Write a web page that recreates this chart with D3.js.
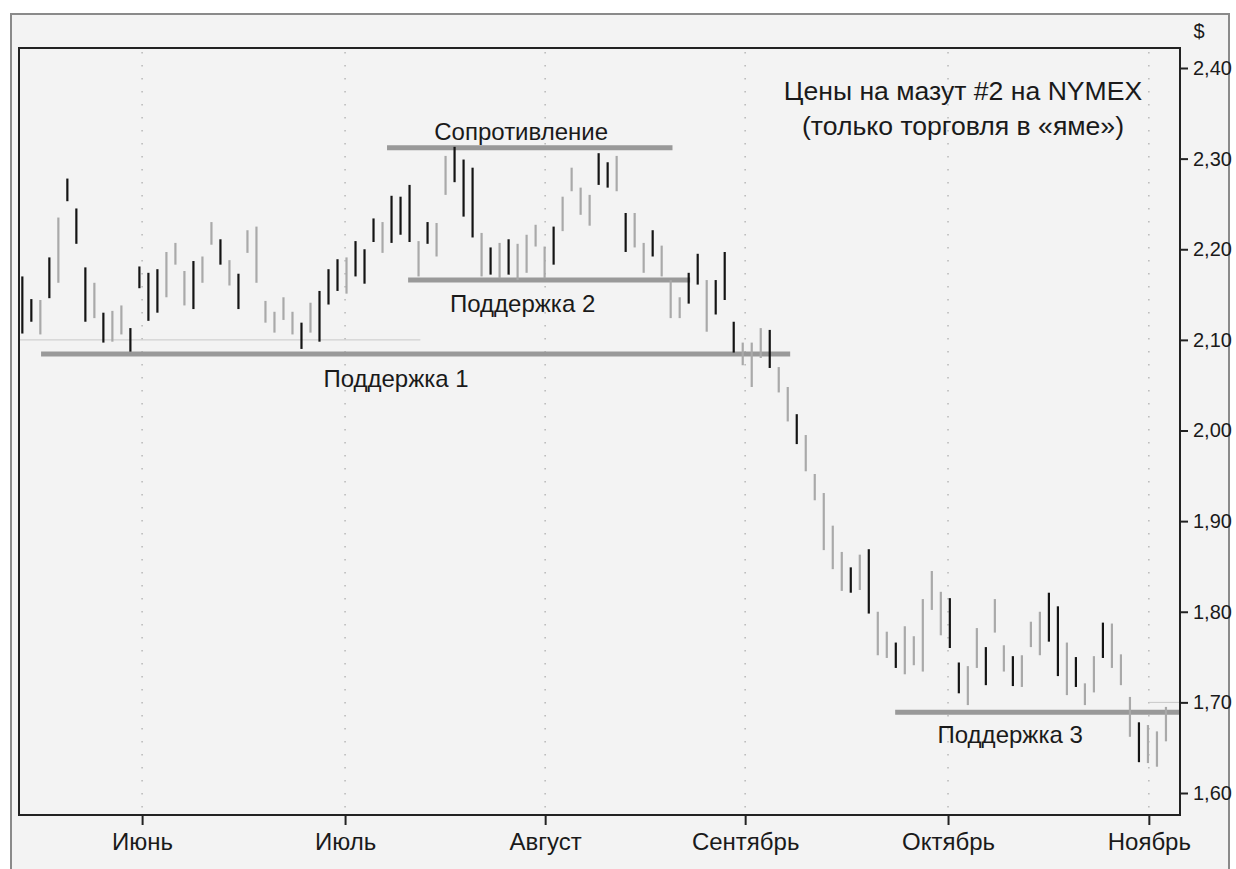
<!DOCTYPE html>
<html>
<head>
<meta charset="utf-8">
<script src="https://cdn.jsdelivr.net/npm/d3@7"></script>
<style>
  body { margin: 0; background: #fff; }
  text { font-family: "Liberation Sans", Arial, sans-serif; fill: #1a1a1a; }
</style>
</head>
<body>
<div id="chart"></div>
<script>
// Heating oil #2 daily bars, NYMEX pit session
// Values: high / low per trading day, bar colour
var highs = [2.170, 2.145, 2.144, 2.191, 2.235, 2.278, 2.245, 2.180, 2.163, 2.130,
	2.132, 2.138, 2.113, 2.181, 2.174, 2.178, 2.197, 2.207, 2.176, 2.187,
	2.192, 2.230, 2.211, 2.188, 2.173, 2.221, 2.225, 2.143, 2.131, 2.147,
	2.131, 2.119, 2.141, 2.154, 2.178, 2.189, 2.191, 2.209, 2.200, 2.234,
	2.230, 2.259, 2.258, 2.271, 2.209, 2.230, 2.229, 2.303, 2.313, 2.299,
	2.290, 2.218, 2.202, 2.207, 2.211, 2.206, 2.216, 2.227, 2.203, 2.225,
	2.258, 2.290, 2.268, 2.260, 2.306, 2.296, 2.303, 2.240, 2.240, 2.207,
	2.221, 2.204, 2.166, 2.147, 2.174, 2.195, 2.166, 2.166, 2.197, 2.120,
	2.097, 2.097, 2.113, 2.111, 2.070, 2.048, 2.018, 1.995, 1.952, 1.931,
	1.895, 1.866, 1.849, 1.863, 1.869, 1.800, 1.778, 1.766, 1.784, 1.773,
	1.814, 1.845, 1.822, 1.815, 1.744, 1.740, 1.782, 1.761, 1.814, 1.763,
	1.751, 1.752, 1.789, 1.800, 1.821, 1.806, 1.766, 1.750, 1.721, 1.751,
	1.788, 1.787, 1.753, 1.706, 1.678, 1.675, 1.668, 1.695];
var lows = [2.107, 2.120, 2.106, 2.146, 2.163, 2.253, 2.206, 2.120, 2.124, 2.097,
	2.098, 2.106, 2.087, 2.157, 2.121, 2.130, 2.147, 2.183, 2.138, 2.134,
	2.163, 2.205, 2.183, 2.160, 2.134, 2.196, 2.163, 2.119, 2.108, 2.122,
	2.106, 2.090, 2.108, 2.098, 2.139, 2.154, 2.151, 2.170, 2.162, 2.208,
	2.196, 2.207, 2.216, 2.208, 2.170, 2.206, 2.192, 2.260, 2.274, 2.236,
	2.213, 2.170, 2.172, 2.168, 2.172, 2.166, 2.174, 2.203, 2.168, 2.183,
	2.220, 2.264, 2.238, 2.226, 2.271, 2.268, 2.264, 2.197, 2.202, 2.174,
	2.192, 2.170, 2.124, 2.124, 2.140, 2.161, 2.109, 2.128, 2.144, 2.086,
	2.072, 2.048, 2.080, 2.069, 2.042, 2.010, 1.985, 1.955, 1.923, 1.868,
	1.847, 1.823, 1.821, 1.824, 1.798, 1.752, 1.749, 1.738, 1.731, 1.741,
	1.734, 1.802, 1.774, 1.760, 1.710, 1.697, 1.738, 1.719, 1.777, 1.734,
	1.718, 1.717, 1.761, 1.752, 1.767, 1.729, 1.708, 1.717, 1.697, 1.711,
	1.749, 1.738, 1.719, 1.662, 1.634, 1.633, 1.629, 1.657];
// b = dark bar, g = light bar
var shades = "bbgbgbbbgbggbbbbgggbggbgbggggggbgbbbgbbbgbbbgbggbbbgbgbggggbggggbbgbggbgggbbgbbbgggbggbgggggbgbggbgggggbbggbggbgggbbgbggbgggbg".split("");

var monthNames = ["Июнь", "Июль", "Август", "Сентябрь", "Октябрь", "Ноябрь"];
var monthPos = [13.3, 35.84, 58.06, 80.27, 102.8, 125.1];   // first trading day of month, bar index
var priceTicks = [1.6, 1.7, 1.8, 1.9, 2.0, 2.1, 2.2, 2.3, 2.4];

// support / resistance levels: label, level, from bar, to bar, label bar, label price
var levelNames = ["Сопротивление", "Поддержка 2", "Поддержка 1", "Поддержка 3"];
var levelValues = [2.312, 2.166, 2.0845, 1.689];
var levelFrom = [40.5, 42.84, 2.08, 96.93];
var levelTo = [72.2, 74.16, 85.27, 128.56];
var labelAt = [55.4, 55.56, 41.5, 109.7];
var labelPrice = [2.321, 2.131, 2.048, 1.6555];

// faint reference lines
var refValues = [2.10, 1.70];
var refFrom = [-0.37, 125.1];
var refTo = [44.2, 128.56];

var titleLines = ["Цены на мазут #2 на NYMEX", "(только торговля в «яме»)"];

var width = 1236, height = 869;
var plot = {left: 19, right: 1180, top: 48, bottom: 815};

var x = d3.scaleLinear().domain([-0.37, 128.56]).range([plot.left, plot.right]);
var y = d3.scaleLinear().domain([1.6, 2.4]).range([793, 68]);
var comma = function(v) { return d3.format(".2f")(v).replace(".", ","); };

var svgContainer = d3.select("#chart").append("svg")
	.attr("width", width)
	.attr("height", height);

// outer panel
svgContainer.append("rect")
	.attr("x", 11).attr("y", 14)
	.attr("width", 1218).attr("height", 880)
	.style("fill", "#f3f3f3")
	.style("stroke", "#8a8a8a")
	.style("stroke-width", 2);

// month gridlines (dotted)
svgContainer.selectAll(".grid")
	.data(monthPos)
	.enter()
	.append("line")
		.attr("class", "grid")
		.attr("x1", function(d) { return x(d); })
		.attr("x2", function(d) { return x(d); })
		.attr("y1", plot.top + 4)
		.attr("y2", plot.bottom)
		.style("stroke", "#b8b8b8")
		.style("stroke-width", 1.5)
		.style("stroke-dasharray", "1.5,11.5");

svgContainer.selectAll(".refline")
	.data(refValues)
	.enter()
	.append("line")
		.attr("class", "refline")
		.attr("x1", function(d, i) { return x(refFrom[i]); })
		.attr("x2", function(d, i) { return x(refTo[i]); })
		.attr("y1", function(d) { return y(d); })
		.attr("y2", function(d) { return y(d); })
		.style("stroke", "#c8c8c8")
		.style("stroke-width", 1);

// support & resistance
svgContainer.selectAll(".level")
	.data(levelValues)
	.enter()
	.append("line")
		.attr("class", "level")
		.attr("x1", function(d, i) { return x(levelFrom[i]); })
		.attr("x2", function(d, i) { return x(levelTo[i]); })
		.attr("y1", function(d) { return y(d); })
		.attr("y2", function(d) { return y(d); })
		.style("stroke", "#999")
		.style("stroke-width", 5);

// price bars
svgContainer.selectAll(".bar")
	.data(highs)
	.enter()
	.append("line")
		.attr("class", "bar")
		.attr("x1", function(d, i) { return x(i); })
		.attr("x2", function(d, i) { return x(i); })
		.attr("y1", function(d) { return y(d); })
		.attr("y2", function(d, i) { return y(lows[i]); })
		.style("stroke", function(d, i) { return shades[i] == "b" ? "#141414" : "#a9a9a9"; })
		.style("stroke-width", 2.2);

svgContainer.selectAll(".levelLabel")
	.data(levelNames)
	.enter()
	.append("text")
		.attr("class", "levelLabel")
		.attr("x", function(d, i) { return x(labelAt[i]); })
		.attr("y", function(d, i) { return y(labelPrice[i]); })
		.style("font-size", "24px")
		.style("text-anchor", "middle")
		.text(function(d) { return d; });

// plot frame
svgContainer.append("rect")
	.attr("x", plot.left).attr("y", plot.top)
	.attr("width", plot.right - plot.left).attr("height", plot.bottom - plot.top)
	.style("fill", "none")
	.style("stroke", "#222")
	.style("stroke-width", 2);

// x axis
var xAxis = svgContainer.append("g")
	.attr("transform", "translate(0," + plot.bottom + ")")
	.call(d3.axisBottom(x).tickValues(monthPos).tickSize(10).tickPadding(8)
		.tickFormat(function(d, i) { return monthNames[i]; }));
xAxis.select(".domain").remove();
xAxis.selectAll("line").style("stroke", "#222").style("stroke-width", 2);
xAxis.selectAll("text").style("font-size", "24px").style("font-family", null).attr("fill", "#1a1a1a");

// y axis on the right
var yAxis = svgContainer.append("g")
	.attr("transform", "translate(" + plot.right + ",0)")
	.call(d3.axisRight(y).tickValues(priceTicks).tickSize(8).tickPadding(5).tickFormat(comma));
yAxis.select(".domain").remove();
yAxis.selectAll("line").style("stroke", "#222").style("stroke-width", 2);
yAxis.selectAll("text").style("font-size", "20px").style("font-family", null).attr("fill", "#1a1a1a");

svgContainer.append("text")
	.attr("x", 1199).attr("y", 38)
	.style("font-size", "20px")
	.style("text-anchor", "middle")
	.text("$");

svgContainer.selectAll(".title")
	.data(titleLines)
	.enter()
	.append("text")
		.attr("class", "title")
		.attr("x", 963)
		.attr("y", function(d, i) { return 100 + i * 35; })
		.style("font-size", "26.6px")
		.style("text-anchor", "middle")
		.text(function(d) { return d; });
</script>
</body>
</html>
